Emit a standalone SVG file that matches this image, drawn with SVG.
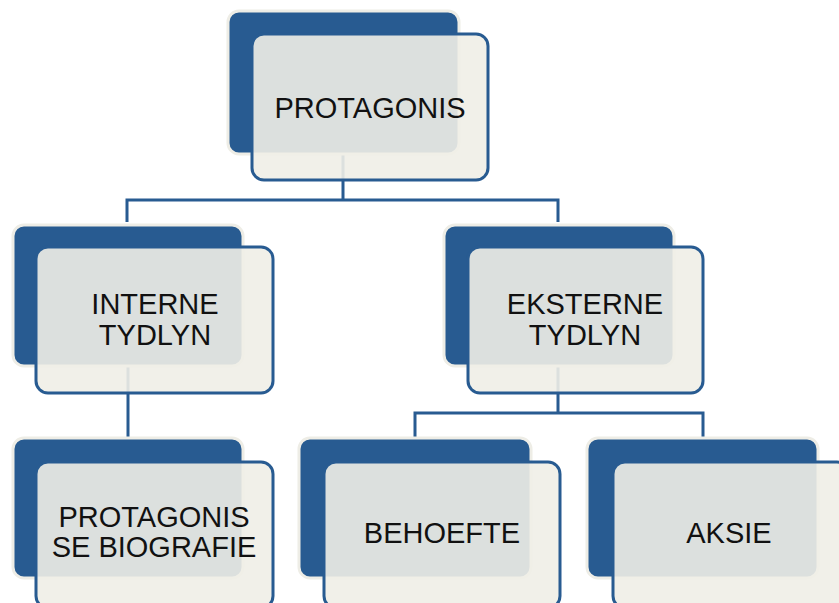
<svg xmlns="http://www.w3.org/2000/svg" width="839" height="603" viewBox="0 0 839 603">
<style>
.back{fill:#285b91;stroke:#eeede6;stroke-width:3}
.front{fill:#efeee7;fill-opacity:0.9;stroke:#285b91;stroke-width:3}
.lbl{font-family:"Liberation Sans",Arial,sans-serif;font-size:29px;fill:#111;text-anchor:middle}
.conn{fill:none;stroke:#285b91;stroke-width:3}
</style>
<rect width="839" height="603" fill="#fff"/>
<g id="connectors">
<path class="conn" d="M343 155 V200 M127 222 V200 H558 V222"/>
<path class="conn" d="M128 366 V438"/>
<path class="conn" d="M558 366 V413 M415 438 V413 H703 V438"/>
</g>
<g id="node-protagonis">
<rect class="back" x="228" y="11" width="231" height="143" rx="11"/>
<rect class="front" x="252" y="34" width="236" height="146" rx="12"/>
<text class="lbl" x="370" y="118">PROTAGONIS</text>
</g>
<g id="node-interne">
<rect class="back" x="13" y="225" width="230" height="141" rx="11"/>
<rect class="front" x="36" y="247" width="237" height="146" rx="12"/>
<text class="lbl" x="155" y="314">INTERNE</text>
<text class="lbl" x="155" y="345">TYDLYN</text>
</g>
<g id="node-eksterne">
<rect class="back" x="444" y="225" width="230" height="141" rx="11"/>
<rect class="front" x="468" y="247" width="235" height="146" rx="12"/>
<text class="lbl" x="585" y="314">EKSTERNE</text>
<text class="lbl" x="585" y="345">TYDLYN</text>
</g>
<g id="node-biografie">
<rect class="back" x="13" y="438" width="230" height="140" rx="11"/>
<rect class="front" x="36" y="462" width="237" height="146" rx="12"/>
<text class="lbl" x="154" y="527">PROTAGONIS</text>
<text class="lbl" x="154" y="557">SE BIOGRAFIE</text>
</g>
<g id="node-behoefte">
<rect class="back" x="299" y="438" width="232" height="140" rx="11"/>
<rect class="front" x="324" y="462" width="236" height="146" rx="12"/>
<text class="lbl" x="442" y="543">BEHOEFTE</text>
</g>
<g id="node-aksie">
<rect class="back" x="587" y="438" width="231" height="140" rx="11"/>
<rect class="front" x="613" y="462" width="236" height="146" rx="12"/>
<text class="lbl" x="729" y="543">AKSIE</text>
</g>
</svg>
